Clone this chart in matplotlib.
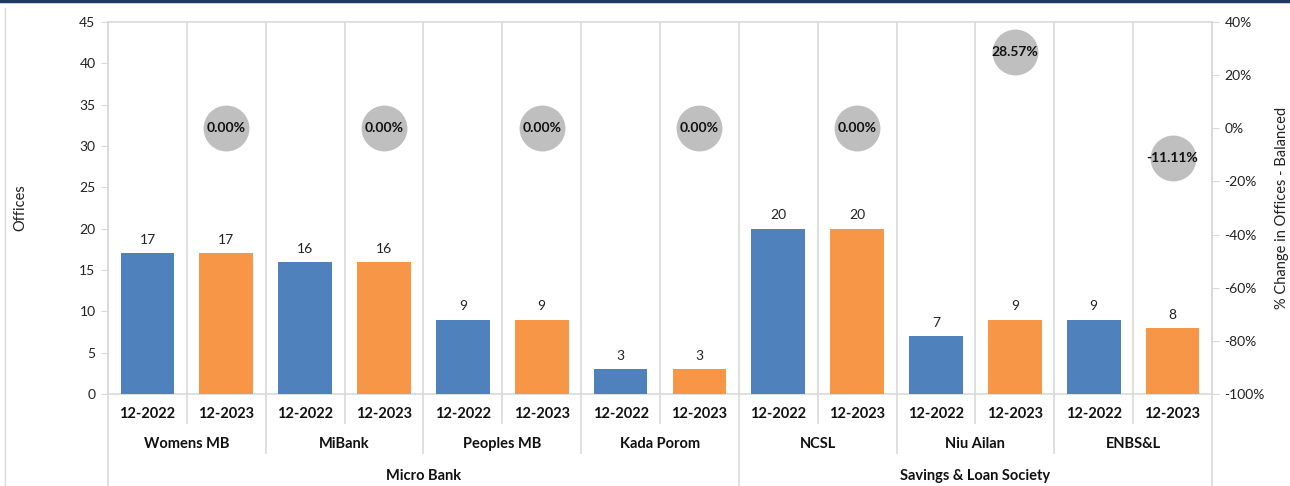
import matplotlib.pyplot as plt
import matplotlib.lines as mlines
import matplotlib.transforms as mtransforms
import numpy as np

plt.rcParams['font.family'] = ['Lato', 'DejaVu Sans']

# data
banks = ['Womens MB', 'MiBank', 'Peoples MB', 'Kada Porom', 'NCSL', 'Niu Ailan', 'ENBS&L']
groups = ['Micro Bank', 'Savings & Loan Society']
group_sizes = [4, 3]
periods = ['12-2022', '12-2023']
offices_2022 = [17, 16, 9, 3, 20, 7, 9]
offices_2023 = [17, 16, 9, 3, 20, 9, 8]
pct_change = [0.0, 0.0, 0.0, 0.0, 0.0, 28.57, -11.11]

blue = '#4F81BD'
orange = '#F79646'
grid_c = '#D9D9D9'

W, H = 1290, 486
fig = plt.figure(figsize=(W / 100, H / 100), dpi=100)
x0, x1, ytop, ybot = 108, 1212, 22, 394
ax = fig.add_axes([x0 / W, (H - ybot) / H, (x1 - x0) / W, (ybot - ytop) / H])

n = len(banks)
xb = np.arange(n) * 2
xo = xb + 1
ax.bar(xb, offices_2022, width=0.68, color=blue, zorder=3)
ax.bar(xo, offices_2023, width=0.68, color=orange, zorder=3)
for x, v in zip(xb, offices_2022):
    ax.text(x, v + 1.6, str(v), ha='center', va='center', fontsize=10, color='#222222')
for x, v in zip(xo, offices_2023):
    ax.text(x, v + 1.6, str(v), ha='center', va='center', fontsize=10, color='#222222')

ax.set_xlim(-0.5, 2 * n - 0.5)
ax.set_ylim(0, 45)
ax.set_yticks(range(0, 46, 5))
ax.set_xticks([])
ax.tick_params(axis='y', length=5, color=grid_c, labelsize=10, labelcolor='#222222', pad=4)
for s in ['left', 'right', 'top', 'bottom']:
    ax.spines[s].set_color(grid_c)
    ax.spines[s].set_linewidth(1.2)
ax.set_ylabel('Offices', fontsize=10.5, color='#222222', labelpad=0)
ax.yaxis.set_label_coords(-0.073, 0.5)

# category axis (multi-level)
trans = mtransforms.blended_transform_factory(ax.transData, ax.transAxes)
def px(y):
    return -(y - ybot) / (ybot - ytop)

for i in range(2 * n + 1):
    xb_line = i - 0.5
    if i % 2 == 1:
        bottom = px(423)
    else:
        bottom = px(453)
    if i in (0, 2 * n, 2 * group_sizes[0]):
        bottom = px(486)
    ax.plot([xb_line, xb_line], [1, bottom], color=grid_c, lw=1.2, transform=trans,
            clip_on=False, zorder=1)

for i in range(n):
    ax.text(xb[i], px(414), periods[0], transform=trans, ha='center', va='center',
            fontsize=10.5, fontweight='bold', color='#111111')
    ax.text(xo[i], px(414), periods[1], transform=trans, ha='center', va='center',
            fontsize=10.5, fontweight='bold', color='#111111')
    ax.text(xb[i] + 0.5, px(444), banks[i], transform=trans, ha='center', va='center',
            fontsize=10.5, fontweight='bold', color='#111111')

start = 0
for g, size in zip(groups, group_sizes):
    center = start * 2 + size - 0.5
    ax.text(center, px(476), g, transform=trans, ha='center', va='center',
            fontsize=10.5, fontweight='bold', color='#111111')
    start += size

# secondary axis: % change
ax2 = ax.twinx()
ax2.set_ylim(-100, 40)
ax2.set_yticks(range(-100, 41, 20))
ax2.set_yticklabels([f'{t}%' for t in range(-100, 41, 20)])
ax2.tick_params(axis='y', length=5, color=grid_c, labelsize=10, labelcolor='#222222', pad=4)
for s in ['left', 'right', 'top', 'bottom']:
    ax2.spines[s].set_visible(False)
ax2.scatter(xo, pct_change, s=1090, color='#BFBFBF', zorder=4, linewidths=0)
for x, p in zip(xo, pct_change):
    ax2.text(x, p, f'{p:.2f}%', ha='center', va='center', fontsize=10,
             fontweight='bold', color='#111111', zorder=5)
ax2.set_ylabel('% Change in Offices - Balanced', fontsize=10.5, color='#222222')
ax2.yaxis.set_label_coords(1.057, 0.5)

# frame decorations
fig.add_artist(mlines.Line2D([0, 1], [1 - 1.5 / H, 1 - 1.5 / H], color='#1F3864', lw=2.5))
fig.add_artist(mlines.Line2D([5 / W, 5 / W], [0, 1 - 8 / H], color=grid_c, lw=1))

fig.savefig('out.png', dpi=100)
